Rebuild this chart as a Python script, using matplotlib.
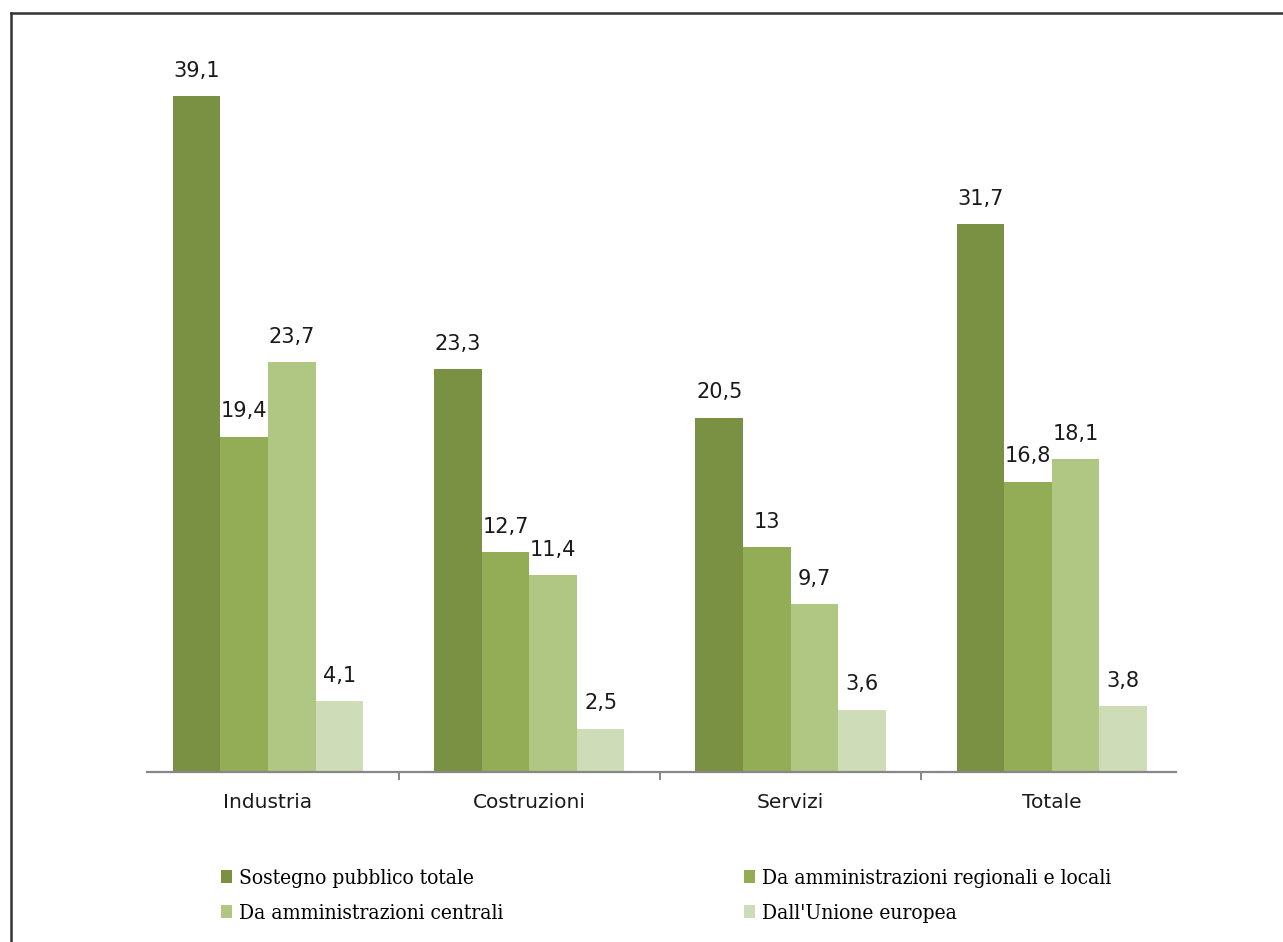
import numpy as np
import matplotlib.pyplot as plt
from matplotlib.lines import Line2D

categories = ["Industria", "Costruzioni", "Servizi", "Totale"]
series_names = ["Sostegno pubblico totale",
                "Da amministrazioni regionali e locali",
                "Da amministrazioni centrali",
                "Dall'Unione europea"]
totale = [39.1, 23.3, 20.5, 31.7]
regionali = [19.4, 12.7, 13.0, 16.8]
centrali = [23.7, 11.4, 9.7, 18.1]
ue = [4.1, 2.5, 3.6, 3.8]
colors = ["#7a9143", "#92ad56", "#b0c784", "#cfdcb8"]


def fmt(v):
    s = ("%.1f" % v).replace(".", ",")
    return s[:-2] if s.endswith(",0") else s


def main():
    W, H = 1283, 942
    fig = plt.figure(figsize=(W / 100, H / 100), dpi=100)
    ax = fig.add_axes([147 / W, 1 - 772 / H, (1176 - 147) / W, (772 - 40) / H])

    x = np.arange(len(categories))
    width = 0.182
    data = [totale, regionali, centrali, ue]
    bars = []
    for i, vals in enumerate(data):
        pos = x + (i - 1.5) * width
        b = ax.bar(pos, vals, width, color=colors[i], label=series_names[i])
        bars.append(b)
        for p, v in zip(pos, vals):
            ax.annotate(fmt(v), (p, v), xytext=(0, 11), textcoords="offset points",
                        ha="center", va="bottom", fontsize=15, color="#1a1a1a")

    ax.set_xlim(-0.463, 3.475)
    ax.set_ylim(0, (772 - 40) / 17.29)
    for s in ["top", "right", "left"]:
        ax.spines[s].set_visible(False)
    ax.spines["bottom"].set_color("#878787")
    ax.spines["bottom"].set_linewidth(1.6)
    ax.set_yticks([])
    ax.set_xticks(x)
    ax.set_xticklabels(categories, fontsize=14.5, color="#1a1a1a")
    ax.tick_params(axis="x", which="major", length=0, pad=15)
    ax.set_xticks([0.5, 1.5, 2.5], minor=True)
    ax.tick_params(axis="x", which="minor", length=6, width=1.4, color="#878787")

    font = dict(family="DejaVu Serif", stretch="condensed", size=15)
    common = dict(loc="upper left", frameon=False, prop=font, handlelength=0.55,
                  handleheight=0.55, handletextpad=0.3, labelspacing=0.75,
                  borderpad=0, borderaxespad=0)
    fig.legend([bars[0], bars[2]], [series_names[0], series_names[2]],
               bbox_to_anchor=(221 / W, 1 - 869 / H), **common)
    fig.legend([bars[1], bars[3]], [series_names[1], series_names[3]],
               bbox_to_anchor=(744 / W, 1 - 869 / H), **common)

    # frame lines on the left and top edges
    fig.add_artist(Line2D([11 / W, 11 / W], [0, 1 - 13 / H], color="#333333", lw=1.8))
    fig.add_artist(Line2D([11 / W, 1], [1 - 13 / H, 1 - 13 / H], color="#333333", lw=1.8))

    fig.savefig("out.png", dpi=100)


if __name__ == "__main__":
    main()
